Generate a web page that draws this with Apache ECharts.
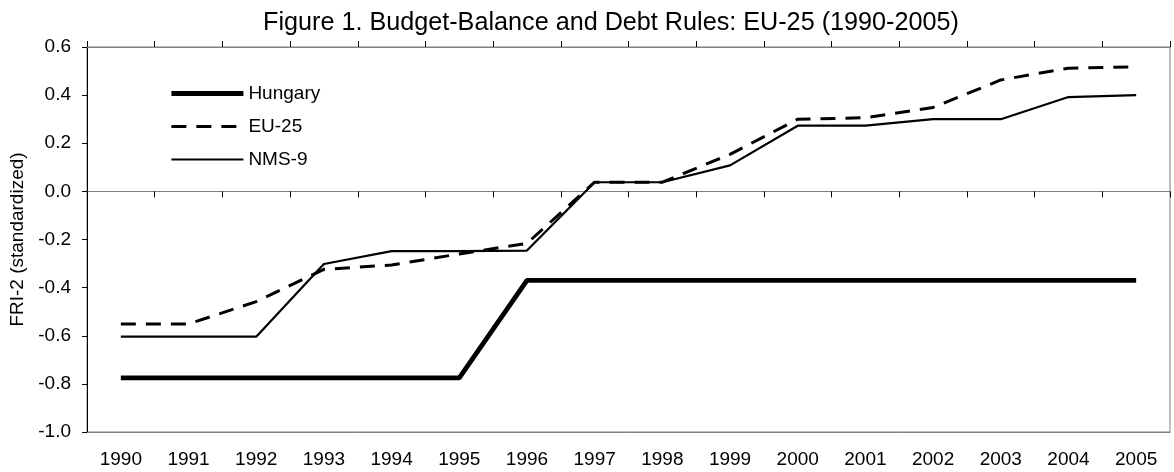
<!DOCTYPE html>
<html>
<head>
<meta charset="utf-8">
<script src="https://cdn.jsdelivr.net/npm/echarts@6/dist/echarts.min.js"></script>
<style>
  html, body { margin: 0; padding: 0; background: #fff; }
  #chart { width: 1174px; height: 472px; }
</style>
</head>
<body>
<div id="chart"></div>
<script>
// years on the x axis
const years = ['1990', '1991', '1992', '1993', '1994', '1995', '1996', '1997',
               '1998', '1999', '2000', '2001', '2002', '2003', '2004', '2005'];

// FRI-2 values
const hungary = [-0.775, -0.775, -0.775, -0.775, -0.775, -0.775, -0.37, -0.37,
                 -0.37, -0.37, -0.37, -0.37, -0.37, -0.37, -0.37, -0.37];
const eu25 = [-0.551, -0.551, -0.458, -0.324, -0.306, -0.26, -0.216, 0.038,
              0.038, 0.154, 0.30, 0.306, 0.349, 0.463, 0.512, 0.518];
const nms9 = [-0.604, -0.604, -0.604, -0.302, -0.248, -0.248, -0.246, 0.038,
              0.038, 0.108, 0.273, 0.273, 0.30, 0.30, 0.392, 0.40];

const FONT = "'Liberation Sans', Arial, sans-serif";
const EU_DASH = [15, 10];

const chart = echarts.init(document.getElementById('chart'));

const option = {
  animation: false,
  backgroundColor: '#fff',
  title: {
    text: 'Figure 1. Budget-Balance and Debt Rules: EU-25 (1990-2005)',
    left: 258,
    top: 6,
    textStyle: { fontFamily: FONT, fontSize: 25.2, fontWeight: 'normal', color: '#000' }
  },
  legend: {
    orient: 'vertical',
    left: 164,
    top: 79,
    itemWidth: 72,
    itemHeight: 14,
    itemGap: 14,
    // hide the symbol in the legend icon, keep only the line
    itemStyle: { color: 'rgba(0,0,0,0)', borderWidth: 0 },
    textStyle: { fontFamily: FONT, fontSize: 19, color: '#000' },
    data: [
      { name: 'Hungary', lineStyle: { width: 4.8, color: '#000' } },
      { name: 'EU-25', lineStyle: { width: 3, color: '#000', type: EU_DASH } },
      { name: 'NMS-9', lineStyle: { width: 2.2, color: '#000' } }
    ]
  },
  grid: {
    left: 87, right: 4, top: 47, bottom: 40,
    show: true,
    borderColor: '#7f7f7f',
    borderWidth: 1
  },
  xAxis: [
    {
      // bottom axis carrying the year labels
      type: 'category',
      data: years,
      position: 'bottom',
      axisLine: { onZero: false, lineStyle: { color: '#7f7f7f', width: 1 } },
      axisTick: { show: false },
      axisLabel: { fontFamily: FONT, fontSize: 19, color: '#000', margin: 18 },
      splitLine: { show: false }
    },
    {
      // zero line, ticks pointing up
      type: 'category',
      data: years,
      axisLine: { onZero: true, lineStyle: { color: '#7f7f7f', width: 1 } },
      axisTick: { show: true, inside: true, length: 6, lineStyle: { color: '#000' } },
      axisLabel: { show: false },
      splitLine: { show: false }
    },
    {
      // zero line, ticks pointing down
      type: 'category',
      data: years,
      axisLine: { onZero: true, lineStyle: { color: '#7f7f7f', width: 1 } },
      axisTick: { show: true, inside: false, length: 6, lineStyle: { color: '#000' } },
      axisLabel: { show: false },
      splitLine: { show: false }
    }
  ],
  yAxis: {
    type: 'value',
    min: -1.0,
    max: 0.6,
    interval: 0.2,
    name: 'FRI-2 (standardized)',
    nameLocation: 'middle',
    nameGap: 51,
    nameTextStyle: { fontFamily: FONT, fontSize: 19, color: '#000' },
    axisLine: { show: true, lineStyle: { color: '#000', width: 1 } },
    axisTick: { show: true, length: 5, lineStyle: { color: '#000' } },
    axisLabel: {
      fontFamily: FONT, fontSize: 19, color: '#000', margin: 16,
      formatter: v => v.toFixed(1)
    },
    splitLine: { show: false }
  },
  series: [
    {
      name: 'Hungary',
      type: 'line',
      data: hungary,
      symbol: 'none',
      lineStyle: { color: '#000', width: 4.8 },
      itemStyle: { color: '#000' }
    },
    {
      name: 'EU-25',
      type: 'line',
      data: eu25,
      symbol: 'none',
      lineStyle: { color: '#000', width: 3, type: EU_DASH },
      itemStyle: { color: '#000' }
    },
    {
      name: 'NMS-9',
      type: 'line',
      data: nms9,
      symbol: 'none',
      lineStyle: { color: '#000', width: 2.2 },
      itemStyle: { color: '#000' }
    }
  ]
};

chart.setOption(option);
</script>
</body>
</html>
